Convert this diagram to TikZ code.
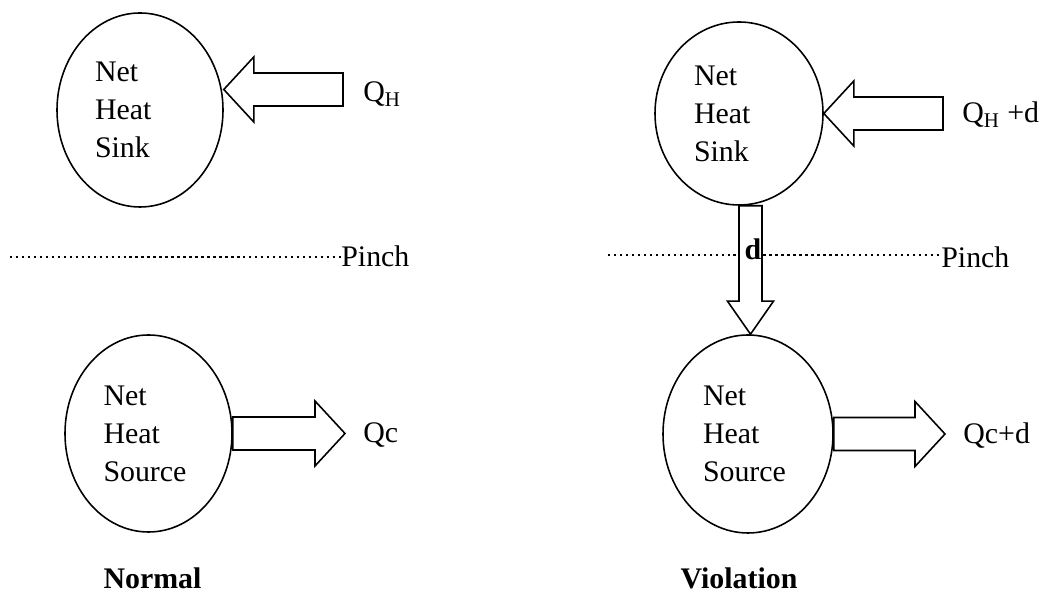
\documentclass[tikz,border=0pt]{standalone}
\usepackage{fontspec}
\setmainfont{Liberation Serif}
\usetikzlibrary{shapes.geometric, calc}

\begin{document}
\begin{tikzpicture}[
        pool/.style={ellipse, draw, line width=0.9pt, inner sep=0pt, text width=1.8cm, align=left, font=\fontsize{17}{21.6}\selectfont, minimum width=3.34cm, minimum height=3.9cm},
        fatarr/.style n args={3}{draw, line width=0.9pt, fill=white, to path={($(\tikztostart)!#1!90:(\tikztotarget)$) -- ($($(\tikztotarget)!#3!(\tikztostart)$)!#1!90:(\tikztotarget)$) -- ($($(\tikztotarget)!#3!(\tikztostart)$)!#2!90:(\tikztotarget)$) -- (\tikztotarget) -- ($($(\tikztotarget)!#3!(\tikztostart)$)!#2!-90:(\tikztotarget)$) -- ($($(\tikztotarget)!#3!(\tikztostart)$)!#1!-90:(\tikztotarget)$) -- ($(\tikztostart)!#1!-90:(\tikztotarget)$) -- cycle}},
        sidearr/.style={fatarr={0.33cm}{0.65cm}{0.6cm}},
        io/.style={inner sep=0pt, font=\fontsize{17}{21.6}\selectfont},
        title/.style={inner sep=0pt, font=\fontsize{17}{21.6}\selectfont\bfseries},
        pinchline/.style={line width=1.4pt, dash pattern=on 1.4pt off 2.0pt},
    ]
    \useasboundingbox (0,0) rectangle (20.84,11.96);
    \node[io, anchor=base west] at (6.82,6.62) (pinchL) {Pinch};
    \node[io, anchor=base west] at (18.82,6.60) (pinchR) {Pinch};
    \coordinate (cutL) at (0.20,6.82);
    \coordinate (cutR) at (12.16,6.86);
    \draw[pinchline] (cutL) -- (cutL -| pinchL.west);
    \draw[pinchline] (cutR) -- (cutR -| pinchR.west);
    \node[pool, minimum width=3.32cm, minimum height=3.88cm] at (2.80,9.76) (sinkL) {Net\\Heat\\Sink};
    \node[pool, minimum width=3.34cm, minimum height=3.94cm] at (2.97,3.29) (srcL) {Net\\Heat\\Source};
    \node[pool, minimum width=3.36cm, minimum height=3.66cm] at (14.78,9.69) (sinkR) {Net\\Heat\\Sink};
    \node[pool, minimum width=3.40cm, minimum height=3.96cm] at (14.96,3.28) (srcR) {Net\\Heat\\Source};
    \coordinate (qhL) at (6.86,10.17);
    \coordinate (qhR) at (18.86,9.69);
    \coordinate (qcL) at (6.90,3.30);
    \coordinate (qcR) at (18.90,3.28);
    \draw[sidearr] (qhL) to (qhL -| sinkL.east);
    \draw[sidearr] (qhR) to (qhR -| sinkR.east);
    \draw[sidearr] (srcL.east) to (srcL.east -| qcL);
    \draw[sidearr] (srcR.east) to (srcR.east -| qcR);
    \coordinate (dtop) at ([xshift=0.23cm]sinkR.south);
    \draw[fatarr={0.23cm}{0.46cm}{0.66cm}] (dtop) to (dtop |- srcR.north);
    \node[title] at (15.06,6.98) (dlbl) {d};
    \node[io, anchor=base west] at (7.26,9.92) (qhLlbl) {Q\textsubscript{H}};
    \node[io, anchor=base west] at (19.24,9.50) (qhRlbl) {Q\textsubscript{H} +d};
    \node[io, anchor=base west] at (7.26,3.10) (qcLlbl) {Qc};
    \node[io, anchor=base west] at (19.26,3.08) (qcRlbl) {Qc+d};
    \node[title, anchor=base] at (3.05,0.18) (normal) {Normal};
    \node[title, anchor=base] at (14.78,0.18) (violation) {Violation};
    \end{tikzpicture}
\end{document}
